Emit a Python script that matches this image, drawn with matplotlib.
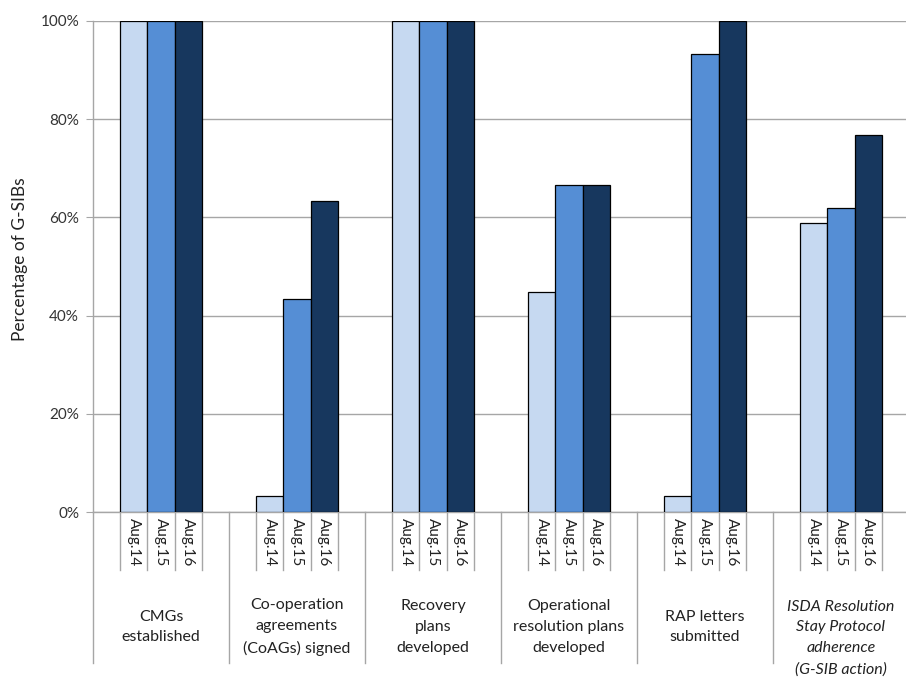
import matplotlib
matplotlib.use("Agg")
import matplotlib.pyplot as plt
import matplotlib.transforms as mtransforms
import numpy as np

plt.rcParams['font.family'] = ['Lato', 'DejaVu Sans']

categories = ["CMGs\nestablished",
              "Co-operation\nagreements\n(CoAGs) signed",
              "Recovery\nplans\ndeveloped",
              "Operational\nresolution plans\ndeveloped",
              "RAP letters\nsubmitted",
              "ISDA Resolution\nStay Protocol\nadherence\n(G-SIB action)"]
series_names = ["Aug.14", "Aug.15", "Aug.16"]
aug14 = [100, 3.3, 100, 44.8, 3.3, 58.8]
aug15 = [100, 43.3, 100, 66.7, 93.3, 62.0]
aug16 = [100, 63.3, 100, 66.7, 100, 76.7]
yticks = [0, 20, 40, 60, 80, 100]
ytick_labels = ["0%", "20%", "40%", "60%", "80%", "100%"]

colors = ["#C6D9F1", "#558ED5", "#17375E"]
grid_c = "#A6A6A6"

fig = plt.figure(figsize=(9.06, 6.79), dpi=100)
ax = fig.add_axes([93/906, 1-512/679, (909-93)/906, (512-21)/679])

x = np.arange(len(categories))
w = 0.2
for i, vals in enumerate([aug14, aug15, aug16]):
    ax.bar(x + (i-1)*w, vals, width=w, color=colors[i], edgecolor="black",
           linewidth=0.9, zorder=3)

ax.set_xlim(-0.5, len(categories)-0.5)
ax.set_ylim(0, 100)
ax.set_yticks(yticks)
ax.set_yticklabels(ytick_labels, fontsize=11, color="#333333")
ax.yaxis.grid(True, color=grid_c, linewidth=1.0, zorder=0)
ax.set_axisbelow(True)
ax.set_xticks([])
for s in ["top", "right"]:
    ax.spines[s].set_visible(False)
for s in ["left", "bottom"]:
    ax.spines[s].set_color(grid_c)
    ax.spines[s].set_linewidth(1.0)
ax.tick_params(axis='y', length=5, color=grid_c, pad=5)
ax.set_ylabel("Percentage of G-SIBs", fontsize=12.5, color="#222222", labelpad=8)
ax.yaxis.set_label_coords(-65/816, 1-(259-21)/491)

trans = mtransforms.blended_transform_factory(ax.transData, ax.transAxes)
ax_h = 491.0
sub_bottom = -(570-512)/ax_h
sep_bottom = -(663-512)/ax_h
for g in x:
    for e in [-1.5, -0.5, 0.5, 1.5]:
        ax.plot([g + e*w, g + e*w], [0, sub_bottom], transform=trans,
                color=grid_c, linewidth=1.0, clip_on=False)
    for i, name in enumerate(series_names):
        ax.text(g + (i-1)*w, -6/ax_h, name, transform=trans, rotation=-90,
                ha='center', va='top', fontsize=11, color="#222222")
for e in np.arange(-0.5, len(categories), 1.0):
    ax.plot([e, e], [0, sep_bottom], transform=trans, color=grid_c,
            linewidth=1.0, clip_on=False)

for g, cat in enumerate(categories):
    italic = cat.startswith("ISDA")
    yc = -(638-512)/ax_h if italic else -(627-512)/ax_h
    ax.text(g, yc, cat, transform=trans, ha='center', va='center',
            fontsize=11.5, color="#222222", linespacing=1.62,
            style='italic' if italic else 'normal')

fig.savefig("out.png", dpi=100)
